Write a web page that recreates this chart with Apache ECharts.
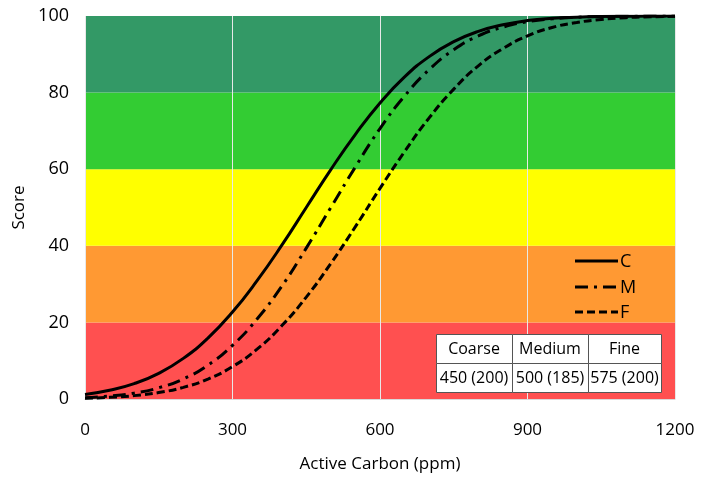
<!DOCTYPE html>
<html><head><meta charset="utf-8">
<script src="https://cdn.jsdelivr.net/npm/echarts@6/dist/echarts.min.js"></script>
<style>html,body{margin:0;padding:0;background:#fff}#c{width:710px;height:479px}</style>
</head><body><div id="c"></div>
<script>
const xValues = [0,50,100,150,200,250,300,350,400,450,500,550,600,650,700,750,800,850,900,950,1000,1050,1100,1150,1200];
const coarse = [1.2,2.3,4.0,6.7,10.6,15.9,22.7,30.9,40.1,50.0,59.9,69.1,77.3,84.1,89.4,93.3,96.0,97.7,98.8,99.4,99.7,99.87,99.94,99.98,99.99];
const medium = [0.34,0.75,1.53,2.93,5.24,8.83,14.0,20.9,29.4,39.4,50.0,60.6,70.6,79.1,86.0,91.2,94.8,97.1,98.5,99.25,99.66,99.85,99.94,99.98,99.99];
const fine = [0.20,0.43,0.88,1.68,3.04,5.21,8.46,13.0,19.1,26.6,35.4,45.0,55.0,64.6,73.4,80.9,87.0,91.5,94.8,97.0,98.3,99.1,99.57,99.80,99.91];
const seriesNames = ['C','M','F'];
const bandEdges = [0,20,40,60,80,100];
const bandColors = ['#FF5050','#FF9933','#FFFF00','#33CC33','#339966'];
const tableHeaders = ['Coarse','Medium','Fine'];
const tableValues = ['450 (200)','500 (185)','575 (200)'];

const FONT = '"Open Sans", sans-serif';
const dashes = [null,[13,6,3,6],[8,4]];
const pair = arr => xValues.map((x,i)=>[x,arr[i]]);

const bands = bandColors.map((c,i)=>[{yAxis:bandEdges[i],itemStyle:{color:c,opacity:1}},{yAxis:bandEdges[i+1]}]);

const graphic = [];
// table
const colX = [436, 512, 588, 661];
const rowY = [334, 363, 392];
for (let r=0;r<2;r++){
  for (let c=0;c<3;c++){
    graphic.push({type:'rect',shape:{x:colX[c]+0.5,y:rowY[r]+0.5,width:colX[c+1]-colX[c],height:rowY[r+1]-rowY[r]},
      style:{fill:'#fff',stroke:'#555',lineWidth:1},z:10});
    graphic.push({type:'text',x:(colX[c]+colX[c+1])/2,y:(rowY[r]+rowY[r+1])/2+1,
      style:{text:(r===0?tableHeaders:tableValues)[c],fill:'#000',font:'16px '+FONT,align:'center',verticalAlign:'middle'},z:11});
  }
}
// legend
const legY = [261, 287, 312];
seriesNames.forEach((n,i)=>{
  graphic.push({type:'line',shape:{x1:575,y1:legY[i],x2:618,y2:legY[i]},
    style:{stroke:'#000',lineWidth:3,lineDash:dashes[i]||null},z:10});
  graphic.push({type:'text',x:620,y:legY[i]+1,
    style:{text:n,fill:'#000',font:'18px '+FONT,align:'left',verticalAlign:'middle'},z:10});
});

const chart = echarts.init(document.getElementById('c'));
chart.setOption({
  animation:false,
  grid:{left:85,right:35,top:16,bottom:80},
  xAxis:{type:'value',min:0,max:1200,interval:300,z:2,
    name:'Active Carbon (ppm)',nameLocation:'middle',nameGap:57,
    nameTextStyle:{fontFamily:FONT,fontSize:17,color:'#000'},
    axisLine:{show:true,lineStyle:{color:'#d9d9d9',width:1}},axisTick:{show:false},
    axisLabel:{fontFamily:FONT,fontSize:17,color:'#000',margin:23,formatter:v=>String(v)},
    splitLine:{show:true,lineStyle:{color:'#e8e8e8',width:1}}},
  yAxis:{type:'value',min:0,max:100,interval:20,
    name:'Score',nameLocation:'middle',nameGap:55,
    nameTextStyle:{fontFamily:FONT,fontSize:17,color:'#000'},
    axisLine:{show:false},axisTick:{show:false},splitLine:{show:false},
    axisLabel:{fontFamily:FONT,fontSize:18,color:'#000',margin:16}},
  graphic:graphic,
  series:seriesNames.map((n,i)=>({
    type:'line',name:n,data:pair([coarse,medium,fine][i]),smooth:true,showSymbol:false,symbol:'none',z:3,
    lineStyle:{color:'#000',width:3,type:dashes[i]||'solid'},
    markArea:i===0?{silent:true,data:bands}:undefined
  }))
});
</script></body></html>
